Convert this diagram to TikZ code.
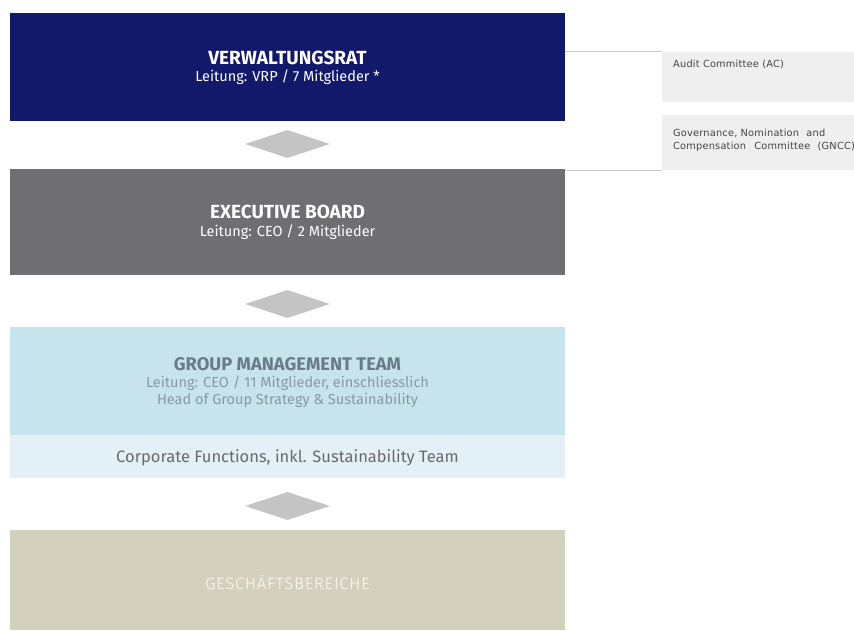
\documentclass[tikz,border=0pt]{standalone}
\usepackage{fontspec}
\setmainfont{Fira Sans}
\newfontfamily\smallfont[LetterSpace=2]{DejaVu Sans}
\newfontfamily\lightfont[LetterSpace=5]{Fira Sans Light}
\usetikzlibrary{shapes.geometric}
\definecolor{vrblue}{HTML}{12186A}
\definecolor{ebgray}{HTML}{6F6F73}
\definecolor{gmtblue}{HTML}{C7E4EC}
\definecolor{cfblue}{HTML}{E3F1F6}
\definecolor{gbbeige}{HTML}{D3D0BE}
\definecolor{diagray}{HTML}{C4C4C4}
\definecolor{combox}{HTML}{EFEFEF}
\definecolor{linegray}{HTML}{C8C8C8}
\definecolor{gmttitle}{HTML}{6A7A8A}
\definecolor{gmtsub}{HTML}{8898A6}
\definecolor{cftext}{HTML}{6A6A6A}
\definecolor{comtext}{HTML}{444444}
\tikzset{
  x=1pt, y=1pt,
  mainbox/.style={rectangle, minimum width=555pt, inner sep=0pt, anchor=south west},
  titletext/.style={anchor=base, inner sep=0pt, font=\fontsize{19}{22}\selectfont\bfseries},
  subtext/.style={anchor=base, inner sep=0pt, font=\fontsize{14.5}{17}\selectfont},
  connector/.style={diamond, fill=diagray, minimum width=85pt, minimum height=28pt, inner sep=0pt, aspect=3},
  combox/.style={rectangle, fill=combox, minimum width=192pt, inner sep=0pt, anchor=south west},
  comtext/.style={anchor=base west, inner sep=0pt, font=\smallfont\fontsize{9.8}{12}\selectfont, text=comtext},
  link/.style={draw=linegray, line width=0.8pt}
}
\begin{document}
\begin{tikzpicture}
\useasboundingbox (0,0) rectangle (854,630);
% main boxes
\node[mainbox, fill=vrblue, minimum height=108pt] (vr) at (10,509) {};
\node[mainbox, fill=ebgray, minimum height=106pt] (eb) at (10,355) {};
\node[mainbox, fill=gmtblue, minimum height=108pt] (gmt) at (10,195) {};
\node[mainbox, fill=cfblue, minimum height=43pt] (cf) at (10,152) {};
\node[mainbox, fill=gbbeige, minimum height=100pt] (gb) at (10,0) {};
% texts
\node[titletext, text=white] (vrt) at (287.5,565) {VERWALTUNGSRAT};
\node[subtext, text=white] (vrs) at (287.5,548) {Leitung: VRP / 7 Mitglieder *};
\node[titletext, text=white] (ebt) at (287.5,411) {EXECUTIVE BOARD};
\node[subtext, text=white] (ebs) at (287.5,393) {Leitung: CEO / 2 Mitglieder};
\node[titletext, text=gmttitle, font=\fontsize{18.3}{22}\selectfont\bfseries] (gmtt) at (287.5,260) {GROUP MANAGEMENT TEAM};
\node[subtext, text=gmtsub] (gmts1) at (287.5,243) {Leitung: CEO / 11 Mitglieder, einschliesslich};
\node[subtext, text=gmtsub] (gmts2) at (287.5,226) {Head of Group Strategy \& Sustainability};
\node[anchor=base, inner sep=0pt, text=cftext, font=\fontsize{16.5}{19}\selectfont] (cft) at (287.5,168) {Corporate Functions, inkl. Sustainability Team};
\node[anchor=base, inner sep=0pt, text=white!92!gbbeige, font=\lightfont\fontsize{16.5}{19}\selectfont] (gbt) at (287.5,41) {GESCHÄFTSBEREICHE};
% diamonds
\node[connector] (d1) at (287.5,486) {};
\node[connector] (d2) at (287.5,326) {};
\node[connector] (d3) at (287.5,124) {};
% committees
\node[combox, minimum height=50pt] (ac) at (662,528) {};
\node[combox, minimum height=55pt] (gncc) at (662,460) {};
\node[comtext] (actext) at (673,562) {Audit Committee (AC)};
\node[comtext] (gncct1) at (673,493) {Governance, Nomination\hspace{4pt} and};
\node[comtext] (gncct2) at (673,480) {Compensation\hspace{5pt} Committee\hspace{4pt} (GNCC)};
% links
\draw[link] (vr.east |- ac.north) -- (ac.north west);
\draw[link] (vr.east |- gncc.south) -- (gncc.south west);
\end{tikzpicture}
\end{document}
